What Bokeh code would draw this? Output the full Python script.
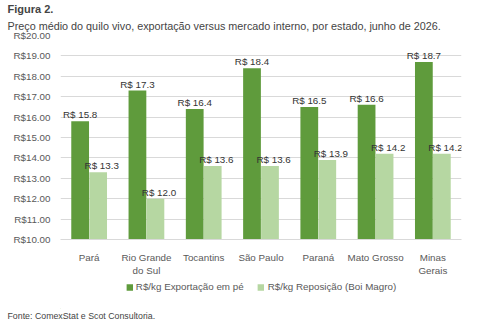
from bokeh.plotting import figure
from bokeh.models import (ColumnDataSource, Legend, LegendItem, PrintfTickFormatter,
                          FixedTicker, Range1d, FactorRange, Title)
from bokeh.layouts import column
from bokeh.transform import dodge
from bokeh.embed import file_html
from bokeh.resources import INLINE
from bokeh.core.properties import value

states = ["Pará", "Rio Grande\ndo Sul", "Tocantins", "São Paulo", "Paraná", "Mato Grosso", "Minas\nGerais"]
exportacao = [15.8, 17.3, 16.4, 18.4, 16.5, 16.6, 18.7]
reposicao = [13.3, 12.0, 13.6, 13.6, 13.9, 14.2, 14.2]
y_ticks = [10, 11, 12, 13, 14, 15, 16, 17, 18, 19, 20]
series_names = ["R$/kg Exportação em pé", "R$/kg Reposição (Boi Magro)"]

DARK = "#5f9b3c"
LIGHT = "#b6d7a2"
FONT = "Liberation Sans"

src = ColumnDataSource(dict(
    state=states,
    exp=exportacao,
    rep=reposicao,
    exp_lbl=["R$ %.1f" % v for v in exportacao],
    rep_lbl=["R$ %.1f" % v for v in reposicao],
))

p = figure(x_range=FactorRange(*states), y_range=Range1d(10, 20),
           width=500, height=278, output_backend="svg", toolbar_location=None,
           min_border_left=60, min_border_right=39, min_border_top=0, min_border_bottom=35)

w = 0.31
p.vbar(x=dodge("state", -0.157, range=p.x_range), top="exp", bottom=10, width=w,
       source=src, fill_color=DARK, line_color=None)
p.vbar(x=dodge("state", 0.157, range=p.x_range), top="rep", bottom=10, width=w,
       source=src, fill_color=LIGHT, line_color=None)

p.text(x=dodge("state", -0.157, range=p.x_range), y="exp", text="exp_lbl", source=src,
       text_align="center", text_baseline="bottom", y_offset=-1,
       text_font=value(FONT), text_font_size="9.8px", text_color="#333333")
p.text(x=dodge("state", 0.22, range=p.x_range), y="rep", text="rep_lbl", source=src,
       text_align="center", text_baseline="bottom", y_offset=-1,
       text_font=value(FONT), text_font_size="9.8px", text_color="#333333")

p.yaxis.ticker = FixedTicker(ticks=y_ticks)
p.yaxis.formatter = PrintfTickFormatter(format="R$%.2f")
for ax in (p.xaxis, p.yaxis):
    ax.axis_line_color = None
    ax.major_tick_line_color = None
    ax.minor_tick_line_color = None
    ax.major_label_text_font = FONT
    ax.major_label_text_font_size = "9.8px"
    ax.major_label_text_color = "#595959"
p.yaxis.major_label_standoff = 4
p.xaxis.major_label_standoff = 6
p.xaxis.axis_line_color = "#d9d9d9"

p.xgrid.grid_line_color = None
p.ygrid.grid_line_color = "#d9d9d9"
p.outline_line_color = None

sub = Title(text="Preço médio do quilo vivo, exportação versus mercado interno, por estado, junho de 2026.",
            text_font=FONT, text_font_size="10.8px", text_font_style="normal", align="left",
            offset=-53, standoff=7)
p.add_layout(sub, "above")
p.add_layout(Title(text="Figura 2.", text_font=FONT, text_font_size="11px", text_font_style="bold",
                   align="left", offset=-53, standoff=0), "above")

# bottom strip: legend and source note
q = figure(x_range=Range1d(0, 1), y_range=Range1d(0, 1), width=500, height=42,
           output_backend="svg", toolbar_location=None,
           min_border_left=0, min_border_right=0, min_border_top=0, min_border_bottom=0)
q.axis.visible = False
q.grid.grid_line_color = None
q.outline_line_color = None
key_src = ColumnDataSource(dict(x=[-10.0], top=[-10.0]))
k1 = q.vbar(x="x", top="top", bottom=-11, width=0.1, source=key_src, fill_color=DARK, line_color=None)
k2 = q.vbar(x="x", top="top", bottom=-11, width=0.1, source=key_src, fill_color=LIGHT, line_color=None)
legend = Legend(items=[LegendItem(label=series_names[0], renderers=[k1]),
                       LegendItem(label=series_names[1], renderers=[k2])],
                orientation="horizontal", location="top_center",
                label_text_font=FONT, label_text_font_size="9.8px",
                label_text_color="#595959", glyph_width=8, glyph_height=8,
                label_standoff=3, spacing=13, border_line_color=None,
                background_fill_alpha=0, padding=2, margin=3)
q.add_layout(legend)
q.add_layout(Title(text="Fonte: ComexStat e Scot Consultoria.", text_font=FONT, text_font_size="8.8px",
                   text_font_style="normal", align="left", offset=-53, standoff=0), "below")

layout = column(p, q, spacing=0)
open("out.html", "w").write(file_html(layout, INLINE))
